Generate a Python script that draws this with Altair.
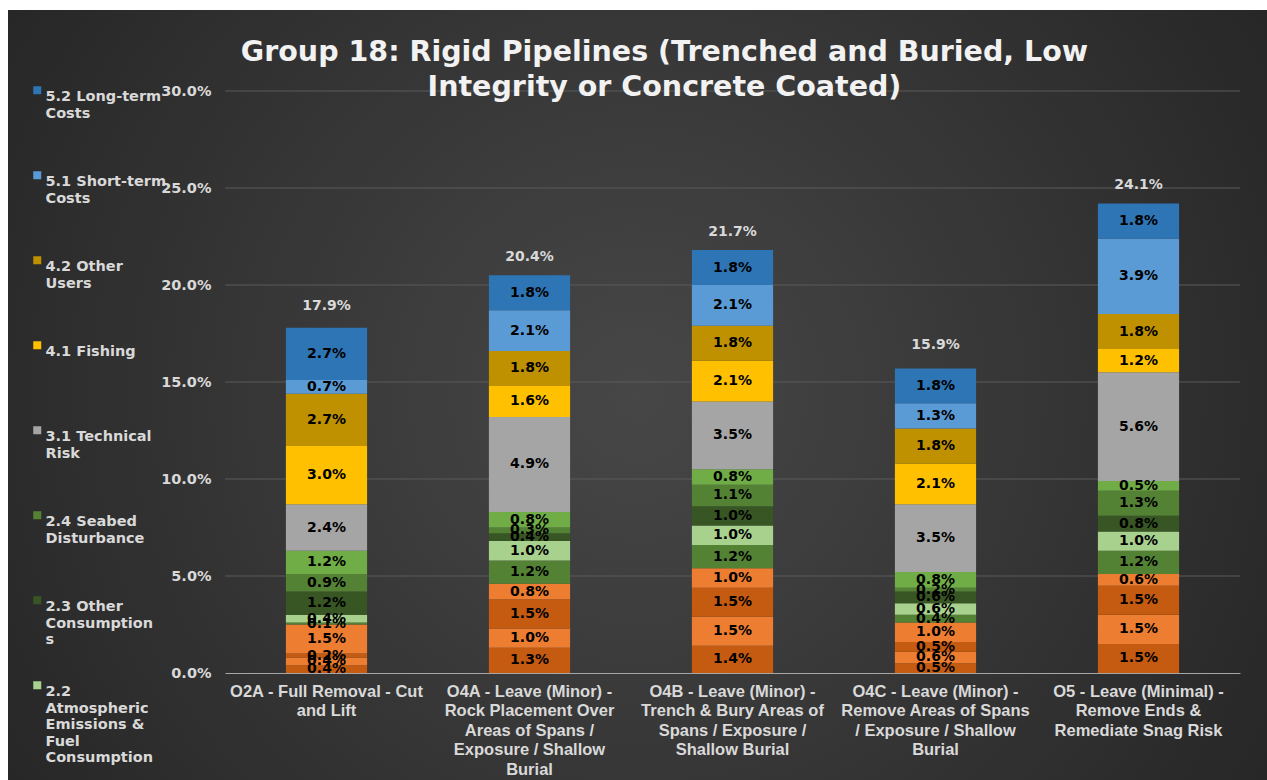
import json
import altair as alt
import pandas as pd

# ---------------- data ----------------
categories = [
    "O2A - Full Removal - Cut and Lift",
    "O4A - Leave (Minor) - Rock Placement Over Areas of Spans / Exposure / Shallow Burial",
    "O4B - Leave (Minor) - Trench & Bury Areas of Spans / Exposure / Shallow Burial",
    "O4C - Leave (Minor) - Remove Areas of Spans / Exposure / Shallow Burial",
    "O5 - Leave (Minimal) - Remove Ends & Remediate Snag Risk",
]
category_lines = [
    ["O2A - Full Removal - Cut", "and Lift"],
    ["O4A - Leave (Minor) -", "Rock Placement Over", "Areas of Spans /", "Exposure / Shallow", "Burial"],
    ["O4B - Leave (Minor) -", "Trench & Bury Areas of", "Spans / Exposure /", "Shallow Burial"],
    ["O4C - Leave (Minor) -", "Remove Areas of Spans", "/ Exposure / Shallow", "Burial"],
    ["O5 - Leave (Minimal) -", "Remove Ends &", "Remediate Snag Risk"],
]

# series, bottom of the stack first
series = [
    "1.1 Safety - Project Personnel Offshore",
    "1.2 Safety - Project Personnel Onshore",
    "1.3 Safety - Other Users",
    "1.4 Safety - Legacy",
    "2.1 Marine Impacts",
    "2.2 Atmospheric Emissions & Fuel Consumption",
    "2.3 Other Consumptions",
    "2.4 Seabed Disturbance",
    "2.5 Long-term Impacts",
    "3.1 Technical Risk",
    "4.1 Fishing",
    "4.2 Other Users",
    "5.1 Short-term Costs",
    "5.2 Long-term Costs",
]
series_colors = [
    "#C55A11", "#ED7D31", "#C55A11", "#ED7D31",
    "#548235", "#A9D18E", "#375623", "#548235", "#70AD47",
    "#A5A5A5", "#FFC000", "#BF9000", "#5B9BD5", "#2E75B6",
]

# values in % for [O2A, O4A, O4B, O4C, O5]
v_1_1 = [0.4, 1.3, 1.4, 0.5, 1.5]
v_1_2 = [0.4, 1.0, 1.5, 0.6, 1.5]
v_1_3 = [0.2, 1.5, 1.5, 0.5, 1.5]
v_1_4 = [1.5, 0.8, 1.0, 1.0, 0.6]
v_2_1 = [0.1, 1.2, 1.2, 0.4, 1.2]
v_2_2 = [0.4, 1.0, 1.0, 0.6, 1.0]
v_2_3 = [1.2, 0.4, 1.0, 0.6, 0.8]
v_2_4 = [0.9, 0.3, 1.1, 0.2, 1.3]
v_2_5 = [1.2, 0.8, 0.8, 0.8, 0.5]
v_3_1 = [2.4, 4.9, 3.5, 3.5, 5.6]
v_4_1 = [3.0, 1.6, 2.1, 2.1, 1.2]
v_4_2 = [2.7, 1.8, 1.8, 1.8, 1.8]
v_5_1 = [0.7, 2.1, 2.1, 1.3, 3.9]
v_5_2 = [2.7, 1.8, 1.8, 1.8, 1.8]
series_values = [v_1_1, v_1_2, v_1_3, v_1_4, v_2_1, v_2_2, v_2_3, v_2_4,
                 v_2_5, v_3_1, v_4_1, v_4_2, v_5_1, v_5_2]

totals = [17.9, 20.4, 21.7, 15.9, 24.1]

y_ticks = [0, 5, 10, 15, 20, 25, 30]

# legend labels as wrapped in the reference (2.5 not listed there)
legend_lines = {
    "5.2 Long-term Costs": ["5.2 Long-term", "Costs"],
    "5.1 Short-term Costs": ["5.1 Short-term", "Costs"],
    "4.2 Other Users": ["4.2 Other", "Users"],
    "4.1 Fishing": ["4.1 Fishing"],
    "3.1 Technical Risk": ["3.1 Technical", "Risk"],
    "2.4 Seabed Disturbance": ["2.4 Seabed", "Disturbance"],
    "2.3 Other Consumptions": ["2.3 Other", "Consumption", "s"],
    "2.2 Atmospheric Emissions & Fuel Consumption": ["2.2", "Atmospheric", "Emissions &", "Fuel", "Consumption"],
    "2.1 Marine Impacts": ["2.1 Marine", "Impacts"],
    "1.4 Safety - Legacy": ["1.4 Safety -", "Legacy"],
    "1.3 Safety - Other Users": ["1.3 Safety -", "Other Users"],
    "1.2 Safety - Project Personnel Onshore": ["1.2 Safety -", "Project", "Personnel", "Onshore"],
    "1.1 Safety - Project Personnel Offshore": ["1.1 Safety -", "Project", "Personnel", "Offshore"],
}

# ---------------- tables ----------------
rows = []
for si, (s, vals) in enumerate(zip(series, series_values)):
    for ci, (c, v) in enumerate(zip(categories, vals)):
        rows.append({"category": c, "series": s, "order": si, "value": v})
df = pd.DataFrame(rows)
df_tot = pd.DataFrame({"category": categories, "total": totals})
df_grid = pd.DataFrame({"tick": y_ticks[1:]})

# ---------------- helpers ----------------
PAD_LINES = 4
def padded(lines):
    return lines + [""] * max(0, PAD_LINES - len(lines))

legend_expr = " : ".join(
    f"datum.label == {json.dumps(k)} ? {json.dumps(padded(v))}" for k, v in legend_lines.items()
) + " : datum.label"
xlabel_expr = " : ".join(
    f"datum.label == {json.dumps(c)} ? {json.dumps(l)}" for c, l in zip(categories, category_lines)
) + " : datum.label"

legend_domain = list(reversed(series))
legend_range = list(reversed(series_colors))
legend_values = [s for s in legend_domain if not s.startswith("2.5")]

W, H = 1015, 582
LABEL_GREY = "#D9D9D9"

x_enc = alt.X(
    "category:N",
    sort=categories,
    scale=alt.Scale(paddingInner=0.6, paddingOuter=0.3),
    axis=alt.Axis(
        title=None, labelAngle=0, labelExpr=xlabel_expr,
        labelFont="'Liberation Sans', Arial, sans-serif",
        labelFontWeight="bold", labelFontSize=16.5, labelColor=LABEL_GREY, labelLimit=400,
        labelLineHeight=19.5, labelPadding=10, ticks=False, domainColor="#A6A6A6",
        domainWidth=1.2, labelBaseline="top", zindex=1,
    ),
)

bg = alt.Chart(pd.DataFrame({"a": [0]})).mark_rect(
    fill=alt.RadialGradient(
        gradient="radial",
        stops=[alt.GradientStop(offset=0, color="#474747"),
               alt.GradientStop(offset=1, color="#1C1C1C")],
        x1=0.5, y1=0.5, r1=0, x2=0.5, y2=0.5, r2=0.78,
    )
).encode(
    x=alt.value(-217), x2=alt.value(1267 - 225),
    y=alt.value(-81), y2=alt.value(780 - 91),
)

grid = alt.Chart(df_grid).mark_rule(color="#5A5A5A", strokeWidth=1).encode(
    y=alt.Y("tick:Q"),
)

base = alt.Chart(df)

bars = base.mark_bar().encode(
    x=x_enc,
    y=alt.Y(
        "value:Q", stack="zero",
        scale=alt.Scale(domain=[0, 30], nice=False),
        axis=alt.Axis(
            title=None, values=y_ticks, labelExpr="format(datum.value, '.1f') + '%'",
            labelFont="DejaVu Sans", labelFontWeight="bold", labelFontSize=14.5,
            labelColor=LABEL_GREY, domain=False, ticks=False, labelPadding=14,
            grid=False, zindex=1,
        ),
    ),
    color=alt.Color(
        "series:N",
        scale=alt.Scale(domain=legend_domain, range=legend_range),
        legend=alt.Legend(
            orient="none", legendX=-195, legendY=-8, title=None, values=legend_values,
            labelExpr=legend_expr, labelFont="DejaVu Sans", labelFontWeight="bold",
            labelFontSize=14.5, labelColor=LABEL_GREY,
            labelBaseline="top", symbolType="square", symbolSize=64, symbolStrokeWidth=0,
            labelOffset=1, labelLimit=220, rowPadding=14, padding=0,
        ),
    ),
    order=alt.Order("order:Q", sort="ascending"),
)

labels = base.transform_stack(
    stack="value", groupby=["category"], sort=[alt.SortField("order", "ascending")],
    as_=["v0", "v1"],
).transform_calculate(
    mid="(datum.v0 + datum.v1) / 2",
    txt="format(datum.value, '.1f') + '%'",
).mark_text(
    font="DejaVu Sans", fontWeight="bold", fontSize=14, color="#000000", baseline="middle",
).encode(
    x=alt.X("category:N", sort=categories),
    y=alt.Y("mid:Q"),
    text="txt:N",
)

tot = alt.Chart(df_tot).transform_calculate(
    txt="format(datum.total, '.1f') + '%'"
).mark_text(
    font="DejaVu Sans", fontWeight="bold", fontSize=14, color=LABEL_GREY, dy=-20,
).encode(
    x=alt.X("category:N", sort=categories),
    y=alt.Y("total:Q"),
    text="txt:N",
)

chart = alt.layer(bg, grid, bars, labels, tot).properties(
    width=W, height=H,
    title=alt.TitleParams(
        text=["Group 18: Rigid Pipelines (Trenched and Buried, Low", "Integrity or Concrete Coated)"],
        font="DejaVu Sans", fontSize=28.5, fontWeight="bold", color="#F2F2F2",
        anchor="middle", frame="group", dx=-68, offset=-91, lineHeight=35,
    ),
    autosize=alt.AutoSizeParams(type="none"),
    padding={"left": 225, "top": 91, "right": 27, "bottom": 107},
).configure(
    background="#FFFFFF",
).configure_view(
    stroke=None,
)

chart.save("out.html", embed_options={"renderer": "svg", "actions": False})
